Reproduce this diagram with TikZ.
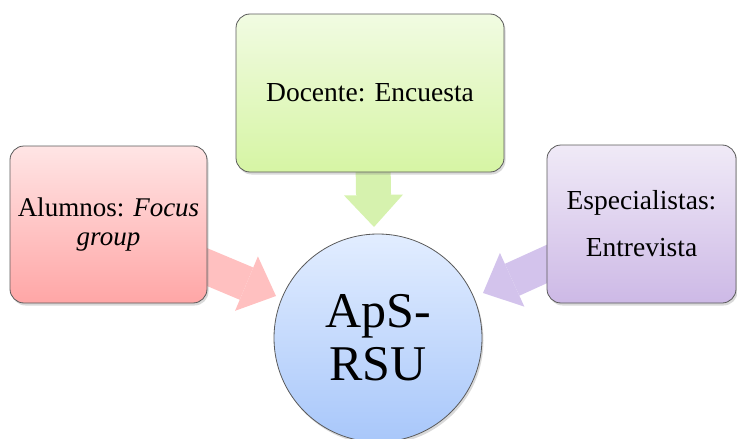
\documentclass[tikz,border=0pt]{standalone}
\usepackage{fontspec}
\setmainfont{Liberation Serif}
\usetikzlibrary{shadows,arrows.meta}
\definecolor{greenTop}{HTML}{F1FBE2}
\definecolor{greenBot}{HTML}{D6F5A4}
\definecolor{redTop}{HTML}{FFE5E5}
\definecolor{redBot}{HTML}{FFA6A6}
\definecolor{purpTop}{HTML}{F0EAF7}
\definecolor{purpBot}{HTML}{CDB9E6}
\definecolor{blueTop}{HTML}{E2EDFF}
\definecolor{blueBot}{HTML}{A8C7FA}
\definecolor{greenArr}{HTML}{D6F2AE}
\definecolor{redArr}{HTML}{FFC0C0}
\definecolor{purpArr}{HTML}{D3C3EC}
\definecolor{edge}{HTML}{5A5A5A}
\begin{document}
\begin{tikzpicture}[x=1pt,y=-1pt,
  boxstyle/.style={draw=edge, line width=0.8pt, rounded corners=14pt,
    drop shadow={opacity=0.3, shadow xshift=1.5pt, shadow yshift=-2.5pt},
    inner sep=0pt, align=center, text=black},
  fatarrow/.style={line width=35pt,
    -{Triangle[length=32pt,width=59pt,line width=0pt]}}]
\useasboundingbox (0,0) rectangle (737,439);
\clip (0,0) rectangle (737,439);
% arrow anchors
\coordinate (gs) at (373,160);
\coordinate (gt) at (374,227);
\coordinate (rs) at (195,262);
\coordinate (rt) at (276,296);
\coordinate (ps) at (560,258);
\coordinate (pt) at (483,293);
\draw[fatarrow, draw=greenArr, color=greenArr] (gs) -- (gt);
\draw[fatarrow, draw=redArr, color=redArr] (rs) -- (rt);
\draw[fatarrow, draw=purpArr, color=purpArr] (ps) -- (pt);
% boxes
\node[boxstyle, minimum width=268pt, minimum height=158pt,
  top color=greenTop, bottom color=greenBot,
  font=\fontsize{27.5}{33}\selectfont] (doc) at (370,93) {Docente: Encuesta};
\node[boxstyle, minimum width=197pt, minimum height=157pt,
  top color=redTop, bottom color=redBot,
  font=\fontsize{27}{29}\selectfont] (alu) at (108.5,224.5)
  {Alumnos: \textit{Focus}\\\textit{group}};
\node[boxstyle, minimum width=189pt, minimum height=158pt,
  top color=purpTop, bottom color=purpBot,
  font=\fontsize{27.5}{47}\selectfont] (esp) at (641.5,224)
  {Especialistas:\\Entrevista};
\node[circle, draw=edge, line width=0.8pt, minimum size=208pt, inner sep=0pt,
  top color=blueTop, bottom color=blueBot, align=center,
  drop shadow={opacity=0.3, shadow xshift=1.5pt, shadow yshift=-2.5pt},
  font=\fontsize{50}{53}\selectfont] (aps) at (378,338) {ApS-\\RSU};
\end{tikzpicture}
\end{document}
